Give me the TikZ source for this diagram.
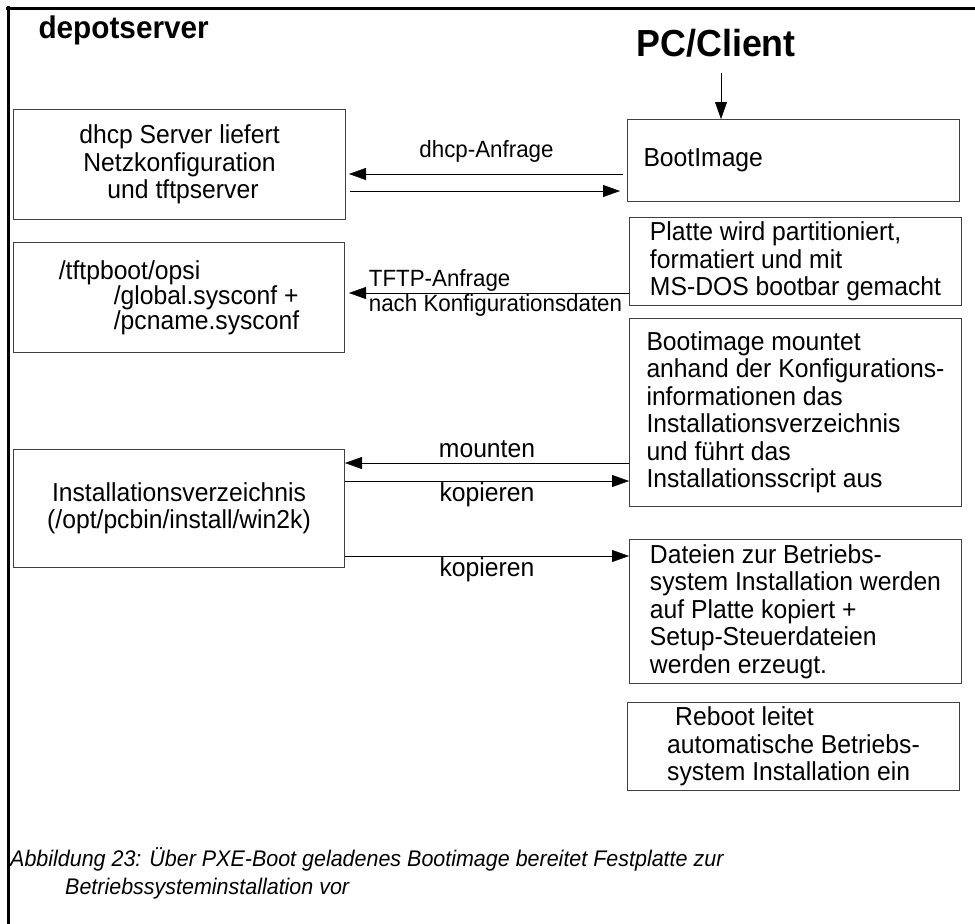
\documentclass[tikz,border=0pt]{standalone}
\usepackage{fontspec}
\setmainfont{Liberation Sans}[FakeStretch=0.95]
\usetikzlibrary{arrows.meta}

\begin{document}
\begin{tikzpicture}
  [x=1pt,y=-1pt,>={Triangle[length=17pt,width=12pt]},
   box node/.style={draw=black!75,line width=1pt,anchor=north west,inner ysep=0pt,align=left,font=\fontsize{26}{27.5}\selectfont},
   label node/.style={font=\fontsize{#1}{#1}\selectfont,inner sep=1pt},
   label node/.default=26,
   title node/.style={anchor=base west,font=\fontsize{#1}{#1}\selectfont\bfseries}]

\useasboundingbox (0,0) rectangle (975,924);
\draw[line width=3pt] (6,8) -- (975,8);
\draw[line width=3pt] (8,6) -- (8,924);

\node[title node=31.3] (depot) at (35,38) {depotserver};
\node[title node=37.7] (pc) at (633,56) {PC/Client};
\coordinate (pctop) at (721,73);

% depotserver side
\node[box node,minimum width=332pt,minimum height=110pt,align=center] (dhcp) at (13,109) {dhcp Server liefert\\Netzkonfiguration\\\hspace*{7pt}und tftpserver};
\node[box node,minimum width=331pt,minimum height=110pt,font=\fontsize{26}{25}\selectfont] (tftp) at (13,242) {/tftpboot/opsi\\\hspace*{55pt}/global.sysconf +\\\hspace*{55pt}/pcname.sysconf};
\node[box node,minimum width=331pt,minimum height=118pt,align=center] (install) at (13,449) {Installationsverzeichnis\\(/opt/pcbin/install/win2k)};

% client side
\node[box node,minimum width=332pt,minimum height=82pt,text width=300pt,inner xsep=16pt] (boot) at (627,119) {BootImage};
\node[box node,minimum width=332pt,minimum height=88pt] (platte) at (629,217) {Platte wird partitioniert,\\formatiert und mit\\MS-DOS bootbar gemacht};
\node[box node,minimum width=332pt,minimum height=188pt] (mount) at (629,318) {Bootimage mountet\\anhand der Konfigurations-\\informationen das\\Installationsverzeichnis\\und führt das\\Installationsscript aus};
\node[box node,minimum width=332pt,minimum height=144pt] (dateien) at (629,539) {Dateien zur Betriebs-\\system Installation werden\\auf Platte kopiert +\\Setup-Steuerdateien\\werden erzeugt.};
\node[box node,minimum width=332pt,minimum height=88pt] (reboot) at (627,702) {\hspace*{8pt}Reboot leitet\\automatische Betriebs-\\system Installation ein};

\path
  (pctop) edge [->] (pctop |- boot.north)
  (boot.west |- 0,174) edge [->, shorten <=4pt, shorten >=3pt] node [label node=23.5, above=10pt] {dhcp-Anfrage} (dhcp.east |- 0,174)
  (dhcp.east |- 0,191) edge [->, shorten <=4pt, shorten >=7pt] (boot.west |- 0,191)
  (platte.west |- 0,293) edge [->, shorten >=4pt] node [label node=23.5, pos=0.92, anchor=south west] {TFTP-Anfrage} node [label node=23.5, pos=0.92, anchor=north west] {nach Konfigurationsdaten} (tftp.east |- 0,293)
  (mount.west |- 0,463) edge [->] node [label node, above=4pt] {mounten} (install.east |- 0,463)
  (install.east |- 0,481) edge [->] node [label node, below] {kopieren} (mount.west |- 0,481)
  (install.east |- 0,556) edge [->] node [label node, below] {kopieren} (dateien.west |- 0,556);

\node[anchor=north west,align=left,inner sep=0pt,font=\fontsize{22.6}{28}\selectfont\itshape] (caption) at (10,847) {Abbildung 23: Über PXE-Boot geladenes Bootimage bereitet Festplatte zur\\\hspace*{55pt}Betriebssysteminstallation vor};

\end{tikzpicture}
\end{document}
